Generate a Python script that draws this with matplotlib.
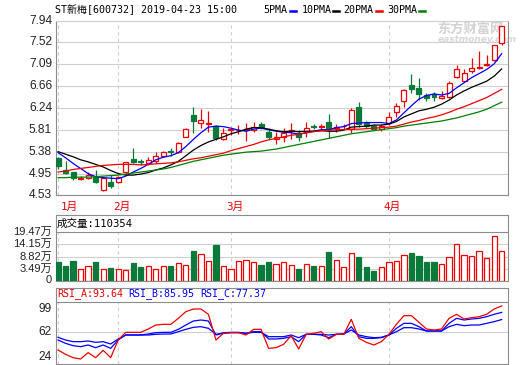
import numpy as np
import matplotlib
matplotlib.use("Agg")
import matplotlib.pyplot as plt
from matplotlib.lines import Line2D
from matplotlib.transforms import offset_copy

# daily candles, 2019-01-22 .. 2019-04-23
opens = [5.25, 5.02, 4.98, 4.85, 4.86, 4.89, 4.63, 4.79, 4.79, 4.99,
         5.24, 5.19, 5.15, 5.19, 5.30, 5.39, 5.38, 5.67, 6.10, 5.94,
         5.92, 5.89, 5.62, 5.80, 5.80, 5.81, 5.81, 5.92, 5.765, 5.63,
         5.67, 5.78, 5.75, 5.76, 5.88, 5.86, 5.96, 5.84, 5.88, 5.82,
         6.26, 5.94, 5.89, 5.82, 5.94, 6.16, 6.37, 6.69, 6.62, 6.49,
         6.51, 6.43, 6.46, 6.84, 6.76, 6.96, 7.01, 7.08, 7.18, 7.50]
highs = [5.28, 5.20, 4.99, 4.90, 4.99, 5.02, 4.88, 4.92, 4.90, 5.18,
         5.45, 5.23, 5.28, 5.37, 5.40, 5.45, 5.57, 5.84, 6.25, 6.21,
         6.18, 5.90, 5.84, 5.84, 5.90, 5.94, 5.96, 5.96, 5.85, 5.77,
         5.84, 5.94, 5.80, 5.96, 5.93, 5.93, 6.12, 5.92, 5.93, 6.23,
         6.36, 5.98, 5.92, 5.92, 6.15, 6.33, 6.60, 6.90, 6.82, 6.53,
         6.55, 6.57, 6.76, 7.08, 6.99, 7.22, 7.35, 7.27, 7.47, 7.85]
lows = [5.03, 4.95, 4.82, 4.82, 4.84, 4.76, 4.60, 4.66, 4.76, 4.95,
        5.15, 5.11, 5.12, 5.15, 5.28, 5.30, 5.35, 5.66, 5.74, 5.84,
        5.77, 5.60, 5.60, 5.70, 5.72, 5.58, 5.77, 5.82, 5.62, 5.52,
        5.57, 5.63, 5.58, 5.66, 5.82, 5.80, 5.64, 5.77, 5.82, 5.74,
        5.87, 5.84, 5.80, 5.79, 5.91, 6.05, 6.26, 6.52, 6.39, 6.37,
        6.38, 6.42, 6.43, 6.82, 6.74, 6.93, 7.00, 7.05, 7.15, 7.46]
closes = [5.09, 4.955, 4.87, 4.86, 4.92, 4.785, 4.86, 4.71, 4.88, 5.17,
          5.17, 5.17, 5.22, 5.30, 5.37, 5.37, 5.55, 5.83, 5.98, 6.00,
          5.94, 5.65, 5.745, 5.82, 5.81, 5.83, 5.87, 5.86, 5.66, 5.67,
          5.75, 5.80, 5.67, 5.84, 5.86, 5.88, 5.82, 5.86, 5.89, 6.20,
          5.92, 5.88, 5.83, 5.88, 6.06, 6.27, 6.59, 6.61, 6.50, 6.43,
          6.46, 6.47, 6.73, 7.00, 6.92, 7.01, 7.03, 7.10, 7.47, 7.84]

ma5 = [5.36, 5.26, 5.15, 5.05, 4.95, 4.89, 4.87, 4.86, 4.85, 4.90,
       4.98, 5.05, 5.13, 5.22, 5.27, 5.30, 5.36, 5.48, 5.62, 5.75,
       5.86, 5.88, 5.87, 5.84, 5.80, 5.78, 5.82, 5.84, 5.81, 5.78,
       5.76, 5.75, 5.72, 5.75, 5.78, 5.81, 5.81, 5.85, 5.87, 5.93,
       5.94, 5.95, 5.95, 5.95, 5.93, 6.00, 6.14, 6.28, 6.41, 6.48,
       6.51, 6.49, 6.52, 6.63, 6.73, 6.83, 6.91, 6.99, 7.10, 7.30]
ma10 = [5.38, 5.33, 5.28, 5.22, 5.18, 5.13, 5.08, 5.01, 4.95, 4.92,
        4.92, 4.94, 4.97, 5.02, 5.06, 5.12, 5.19, 5.30, 5.41, 5.50,
        5.57, 5.62, 5.67, 5.73, 5.77, 5.82, 5.85, 5.85, 5.82, 5.79,
        5.77, 5.78, 5.77, 5.78, 5.78, 5.79, 5.78, 5.78, 5.80, 5.86,
        5.87, 5.88, 5.90, 5.90, 5.92, 5.97, 6.06, 6.12, 6.18, 6.21,
        6.25, 6.31, 6.39, 6.49, 6.57, 6.64, 6.70, 6.76, 6.86, 7.00]
ma20 = [4.98, 5.00, 5.03, 5.05, 5.07, 5.09, 5.11, 5.12, 5.13, 5.13,
        5.13, 5.12, 5.13, 5.14, 5.15, 5.16, 5.18, 5.21, 5.24, 5.26,
        5.29, 5.32, 5.35, 5.40, 5.44, 5.48, 5.52, 5.57, 5.61, 5.64,
        5.67, 5.70, 5.72, 5.75, 5.77, 5.79, 5.80, 5.81, 5.81, 5.82,
        5.82, 5.83, 5.84, 5.85, 5.86, 5.88, 5.92, 5.96, 5.99, 6.03,
        6.06, 6.10, 6.15, 6.21, 6.26, 6.32, 6.38, 6.44, 6.52, 6.60]
ma30 = [4.87, 4.87, 4.88, 4.88, 4.88, 4.89, 4.90, 4.91, 4.92, 4.94,
        4.96, 4.98, 5.00, 5.02, 5.04, 5.07, 5.11, 5.15, 5.19, 5.22,
        5.25, 5.28, 5.31, 5.33, 5.35, 5.37, 5.38, 5.39, 5.41, 5.43,
        5.46, 5.49, 5.52, 5.55, 5.58, 5.61, 5.64, 5.67, 5.70, 5.73,
        5.75, 5.77, 5.79, 5.81, 5.83, 5.85, 5.88, 5.90, 5.92, 5.94,
        5.96, 5.98, 6.01, 6.04, 6.08, 6.12, 6.16, 6.21, 6.28, 6.35]

# volume in 万 (10k lots)
vols = [6.43, 4.90, 7.09, 3.47, 4.79, 6.43, 3.47, 4.02, 3.47, 3.14,
        6.21, 4.46, 4.79, 3.47, 4.79, 4.90, 6.11, 5.34, 11.15, 10.05,
        6.98, 13.79, 4.79, 3.47, 6.98, 7.42, 6.54, 5.23, 6.43, 5.78,
        6.54, 5.34, 3.58, 5.78, 4.90, 4.90, 10.71, 7.42, 4.35, 10.60,
        8.52, 4.46, 2.70, 4.35, 6.54, 6.98, 9.62, 10.27, 8.96, 6.65,
        6.65, 5.78, 8.74, 14.23, 9.62, 9.18, 11.04, 8.30, 17.63, 11.04]
last_volume = 110354

rsi_a = [40.8, 35.6, 31.6, 30.0, 37.6, 31.6, 40.4, 31.6, 52.8, 62.0,
         62.0, 62.0, 66.0, 70.8, 71.6, 71.6, 78.8, 86.8, 90.0, 90.0,
         83.6, 52.8, 60.8, 61.6, 61.6, 58.8, 65.6, 65.6, 42.8, 43.6,
         47.6, 58.0, 42.0, 59.6, 60.8, 62.8, 54.0, 59.6, 59.6, 77.6,
         54.8, 50.0, 46.8, 50.8, 59.6, 71.6, 82.0, 82.0, 74.0, 66.0,
         64.8, 66.0, 78.8, 83.6, 78.0, 79.6, 80.8, 83.6, 90.0, 93.64]
rsi_b = [52.8, 48.8, 46.0, 44.8, 46.8, 43.6, 46.8, 42.8, 52.8, 58.8,
         58.8, 58.8, 60.0, 61.6, 62.0, 62.0, 65.6, 70.8, 75.6, 76.8,
         75.6, 58.8, 61.6, 62.0, 62.0, 60.8, 62.8, 62.8, 54.0, 54.0,
         54.8, 56.8, 50.8, 59.6, 59.6, 58.8, 55.6, 59.6, 60.0, 68.8,
         56.8, 54.8, 54.8, 55.6, 58.8, 66.8, 72.8, 72.8, 68.8, 63.6,
         63.6, 63.6, 72.8, 78.8, 76.8, 78.0, 78.8, 80.8, 83.6, 85.95]
rsi_c = [56.0, 52.8, 50.8, 50.8, 51.6, 50.0, 50.8, 48.0, 54.0, 58.8,
         58.8, 58.8, 58.8, 59.6, 60.0, 60.0, 62.8, 65.6, 68.0, 68.8,
         66.8, 59.6, 60.8, 61.6, 61.6, 60.8, 62.0, 62.0, 56.8, 56.8,
         56.8, 58.8, 55.6, 59.6, 59.6, 59.6, 58.8, 59.6, 60.0, 64.8,
         58.8, 56.8, 55.6, 56.0, 58.8, 62.8, 67.6, 67.6, 66.0, 63.6,
         63.6, 63.6, 68.8, 71.6, 70.0, 70.8, 70.8, 72.8, 74.8, 77.37]

month_starts = [0, 8, 23, 44]
month_names = ["1月", "2月", "3月", "4月"]
price_labels = ["4.53", "4.95", "5.38", "5.81", "6.24", "6.66", "7.09", "7.52", "7.94"]
vol_grid = [0, 3.49, 8.82, 14.15, 19.47]
vol_labels = ["0", "3.49万", "8.82万", "14.15万", "19.47万"]

RED = "#f00000"
GREEN = "#0a7a3a"
BLUE = "#0000ff"
FRAME = "#8c8c8c"
GRID = "#cfcfcf"
mono = ["DejaVu Sans Mono", "Noto Sans CJK SC"]
sans = ["Liberation Sans", "Noto Sans CJK SC"]

W, H = 520, 365
fig = plt.figure(figsize=(W / 100, H / 100), dpi=100)


def px_box(x0, y0, x1, y1):
    return [x0 / W, 1 - y1 / H, (x1 - x0) / W, (y1 - y0) / H]


def setup(a):
    for side in a.spines.values():
        side.set_color(FRAME)
        side.set_linewidth(0.8)
    a.set_xlim(-0.27, 59.84)
    a.set_xticks([])
    a.set_yticks([])


def ylabel(a, y, s, dy=0, size=8.6):
    tr = offset_copy(a.get_yaxis_transform(), fig=fig, x=-4, y=dy, units="dots")
    a.text(0, y, s, transform=tr, ha="right", va="center", fontsize=size,
           family=sans, color="#222222")


x = np.arange(len(closes))
o = np.array(opens)
c = np.array(closes)
up = c >= o
edge = np.where(up, RED, GREEN)
face = np.where(up, "white", GREEN)

# ---- price panel
ax = fig.add_axes(px_box(56, 21, 508, 195))
setup(ax)
ax.spines["top"].set_color(GRID)
ax.set_ylim(4.53, 7.94)
for s in price_labels:
    ax.axhline(float(s), color=GRID, lw=0.8, zorder=0)
    ylabel(ax, float(s), s)
for m in month_starts:
    ax.axvline(m, color=GRID, lw=0.8, ls=(0, (3, 3)), zorder=0)

ax.vlines(x, lows, highs, colors=edge, lw=0.9, zorder=2)
ax.bar(x, np.maximum(np.abs(c - o), 0.004), bottom=np.minimum(o, c), width=0.66,
       color=face, edgecolor=edge, linewidth=0.9, zorder=3)
ax.plot(x, ma5, color=BLUE, lw=0.9, zorder=4)
ax.plot(x, ma10, color="black", lw=0.9, zorder=4)
ax.plot(x, ma20, color=RED, lw=0.9, zorder=4)
ax.plot(x, ma30, color="#008000", lw=0.9, zorder=4)

for m, name in zip(month_starts, month_names):
    ax.text(m + (0.3 if m == 0 else 0.5), -0.069, name, transform=ax.get_xaxis_transform(),
            ha="left" if m == 0 else "center", va="center", color=RED,
            fontsize=7.8, family=mono)

# watermark
ax.text(437 / W, 1 - 29 / H, "东方财富网", transform=fig.transFigure, fontsize=9.5,
        family=["Noto Sans CJK SC"], weight="bold", color="#d2d2d2", va="center", zorder=1)
ax.text(438 / W, 1 - 40 / H, "eastmoney.com", transform=fig.transFigure, fontsize=6.5,
        family=["DejaVu Sans"], weight="bold", style="italic", color="#d8d8d8",
        va="center", zorder=1)

# header line
fig.text(55 / W, 1 - 10 / H, "ST新梅[600732] 2019-04-23 15:00", fontsize=7.2,
         family=mono, va="center", color="black")
legend = [("5PMA", 263, BLUE, 290), ("10PMA", 302, "black", 333),
          ("20PMA", 343, RED, 376), ("30PMA", 387, "#008000", 419)]
for name, tx, col, dx in legend:
    fig.text(tx / W, 1 - 10 / H, name, fontsize=7.2, family=mono, va="center")
    fig.add_artist(Line2D([dx / W, (dx + 6) / W], [1 - 11 / H, 1 - 11 / H], color=col, lw=1.8))

# ---- volume panel (zero line sits a little above the frame, bars run to the frame)
vax = fig.add_axes(px_box(56, 215, 508, 280.5))
setup(vax)
vscale = (277.0 - 232.0) / vol_grid[-1]          # pixels per 万
vlow = -(280.5 - 277.0) / vscale
vtop = vol_grid[-1] + (232.0 - 215.0) / vscale
vax.set_ylim(vlow, vtop)
vax.axhline(vol_grid[-1], color=FRAME, lw=0.8)
for v in vol_grid[1:-1]:
    vax.axhline(v, color=GRID, lw=0.8, zorder=0)
for v, s in zip(vol_grid, vol_labels):
    ylabel(vax, v, s, dy=-3 if v == 0 else 0, size=8.0)
vax.vlines(month_starts, vlow, vol_grid[-1], colors=GRID, lw=0.8, linestyles=(0, (3, 3)), zorder=0)
vax.bar(x, np.array(vols) - vlow, bottom=vlow, width=0.7, color=face, edgecolor=edge,
        linewidth=0.9, zorder=3)
vax.text(1 / 452, 1 - 9 / 65.5, f"成交量:{last_volume}", transform=vax.transAxes,
         fontsize=7.6, family=mono, va="center")

# ---- RSI panel
rax = fig.add_axes(px_box(56, 288, 508, 364))
setup(rax)
rtop = 99 + (301.5 - 288) / (62.5 / 75)
rax.set_ylim(24, rtop)
rax.axhline(99, color=FRAME, lw=0.8)
rax.axhline(62, color=GRID, lw=0.8, zorder=0)
rax.vlines(month_starts, 24, 99, colors=GRID, lw=0.8, linestyles=(0, (3, 3)), zorder=0)
ylabel(rax, 99, "99", dy=-7.5)
ylabel(rax, 62, "62")
ylabel(rax, 24, "24", dy=7)
rax.plot(x, rsi_c, color=BLUE, lw=0.9, zorder=3)
rax.plot(x, rsi_b, color=BLUE, lw=0.9, zorder=3)
rax.plot(x, rsi_a, color=RED, lw=0.9, zorder=4)
heads = [(f"RSI_A:{rsi_a[-1]:.2f}", 57, RED), (f"RSI_B:{rsi_b[-1]:.2f}", 128, BLUE),
         (f"RSI_C:{rsi_c[-1]:.2f}", 200, BLUE)]
for s, tx, col in heads:
    fig.text(tx / W, 1 - 294 / H, s, fontsize=7.2, family=mono, va="center", color=col)

fig.savefig("out.png", dpi=100, facecolor="white")
